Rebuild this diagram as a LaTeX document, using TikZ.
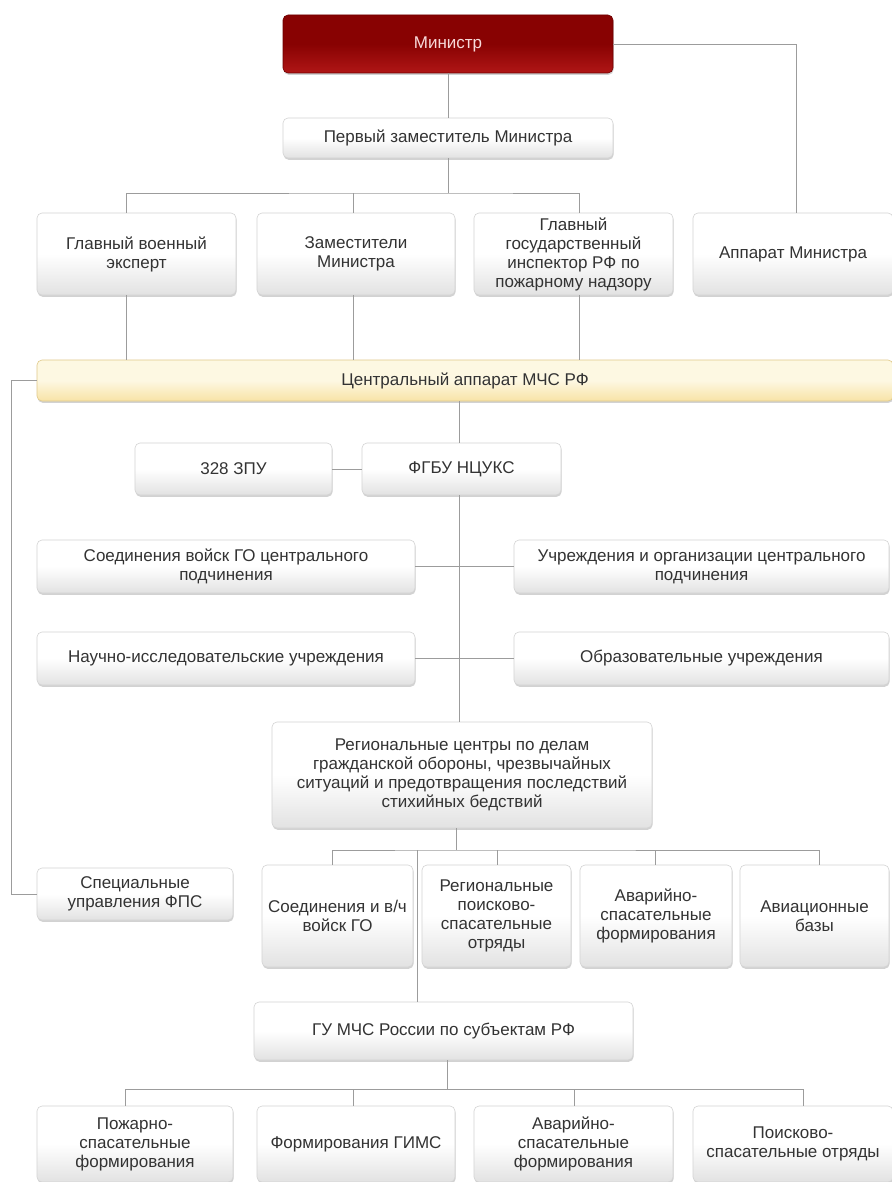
\documentclass[tikz,border=0pt]{standalone}
\usepackage{fontspec}
\setmainfont{Liberation Sans}
\usetikzlibrary{shadows}
\definecolor{txt}{HTML}{333333}
\definecolor{redtop}{HTML}{880202}
\definecolor{redbot}{HTML}{B01616}
\definecolor{redline}{HTML}{6E0000}
\definecolor{mintxt}{HTML}{F8DADA}
\definecolor{yeltop}{HTML}{FDF8E2}
\definecolor{yelbot}{HTML}{F8E3A6}
\definecolor{yelline}{HTML}{E0C98A}
\definecolor{boxline}{HTML}{D4D4D4}
\definecolor{boxbot}{HTML}{E2E2E2}
\definecolor{conncol}{HTML}{9C9C9C}
\tikzset{
  box/.style={rectangle, rounded corners=5pt, draw=boxline, line width=0.6pt,
    top color=white, bottom color=boxbot, middle color=white,
    drop shadow={shadow xshift=0.6pt, shadow yshift=-1.8pt, opacity=0.25, fill=black!70},
    font=\fontsize{17}{19}\selectfont, text=txt, align=center, inner sep=1pt},
  minbox/.style={draw=redline, top color=redtop, bottom color=redbot, middle color=redtop, text=mintxt},
  centbox/.style={draw=yelline, top color=yeltop, bottom color=yelbot, middle color=yeltop},
  conn/.style={draw=conncol, line width=0.8pt},
}
\newcommand{\mybox}[7][]{%
  \pgfmathsetmacro\mbcx{(#3+#5)/2}\pgfmathsetmacro\mbcy{(#4+#6)/2}%
  \pgfmathsetmacro\mbw{#5-#3}\pgfmathsetmacro\mbh{#6-#4}%
  \node[box,#1,minimum width=\mbw pt,minimum height=\mbh pt] (#2) at (\mbcx,\mbcy) {#7};}
\begin{document}
\begin{tikzpicture}[x=1pt,y=-1pt]
\fill[white] (0,0) rectangle (891,1182);
\useasboundingbox (0,0) rectangle (891,1182);
% nodes
\mybox[minbox]{min}{283}{15}{613}{73}{Министр}
\mybox{perv}{283}{118}{613}{158}{Первый заместитель Министра}
\mybox{gve}{37}{213}{236}{295}{Главный военный\\эксперт}
\mybox{zam}{257}{213}{455}{295}{Заместители\\Министра}
\mybox{ggi}{474}{213}{673}{295}{Главный\\государственный\\инспектор РФ по\\пожарному надзору}
\mybox{app}{693}{213}{893}{295}{Аппарат Министра}
\mybox[centbox]{central}{37}{360}{893}{401}{Центральный аппарат МЧС РФ}
\mybox{zpu}{135}{443}{332}{495}{328 ЗПУ}
\mybox{fgbu}{362}{443}{561}{495}{ФГБУ НЦУКС}
\mybox{soed}{37}{540}{415}{593}{Соединения войск ГО центрального\\подчинения}
\mybox{uchr}{514}{540}{889}{593}{Учреждения и организации центрального\\подчинения}
\mybox{nii}{37}{632}{415}{685}{Научно-исследовательские учреждения}
\mybox{obr}{514}{632}{889}{685}{Образовательные учреждения}
\mybox{reg}{272}{722}{652}{828}{Региональные центры по делам\\гражданской обороны, чрезвычайных\\ситуаций и предотвращения последствий\\стихийных бедствий}
\mybox{spec}{37}{868}{233}{920}{Специальные\\управления ФПС}
\mybox{svch}{262}{865}{413}{967}{Соединения и в/ч\\войск ГО}
\mybox{rpso}{422}{865}{571}{967}{Региональные\\поисково-\\спасательные\\отряды}
\mybox{asfa}{580}{865}{732}{967}{Аварийно-\\спасательные\\формирования}
\mybox{avb}{740}{865}{889}{967}{Авиационные\\базы}
\mybox{gu}{254}{1002}{633}{1060}{ГУ МЧС России по субъектам РФ}
\mybox{psf}{37}{1106}{233}{1182}{Пожарно-\\спасательные\\формирования}
\mybox{gims}{257}{1106}{455}{1182}{Формирования ГИМС}
\mybox{asfb}{474}{1106}{673}{1182}{Аварийно-\\спасательные\\формирования}
\mybox{pso}{693}{1106}{893}{1182}{Поисково-\\спасательные отряды}
% connector x positions
\coordinate (xg) at (126,0);
\coordinate (xz) at (353,0);
\coordinate (xi) at (579,0);
\coordinate (xa) at (796,0);
\coordinate (xc) at (459,0);
\coordinate (xs1) at (332,0);
\coordinate (xs2) at (497,0);
\coordinate (xs3) at (655,0);
\coordinate (xs4) at (819,0);
\coordinate (xgu) at (417,0);
\coordinate (xb1) at (125,0);
\coordinate (xb2) at (353,0);
\coordinate (xb3) at (574,0);
\coordinate (xb4) at (803,0);
\coordinate (b1) at (448,193);
\coordinate (b2) at (456,850);
\coordinate (b3) at (447,1089);
% connectors
\draw[conn] (min.south) -- (perv.north);
\draw[conn] (min.east) -| (app.north -| xa);
\draw[conn] (perv.south) -- (b1);
\draw[conn] (gve.north -| xg) |- (b1) -| (ggi.north -| xi);
\draw[conn] (zam.north -| xz) -- (xz |- b1);
\draw[conn] (gve.south -| xg) -- (central.north -| xg);
\draw[conn] (zam.south -| xz) -- (central.north -| xz);
\draw[conn] (ggi.south -| xi) -- (central.north -| xi);
\draw[conn] (central.west) -- ++(-25,0) |- (spec.west);
\draw[conn] (central.south -| xc) -- (fgbu.north -| xc);
\draw[conn] (fgbu.south -| xc) -- (reg.north -| xc);
\draw[conn] (zpu) -- (fgbu);
\draw[conn] (soed) -- (uchr);
\draw[conn] (nii) -- (obr);
\draw[conn] (reg.south -| b2) -- (b2);
\draw[conn] (svch.north -| xs1) |- (b2) -| (avb.north -| xs4);
\draw[conn] (rpso.north -| xs2) -- (xs2 |- b2);
\draw[conn] (asfa.north -| xs3) -- (xs3 |- b2);
\draw[conn] (xgu |- b2) -- (gu.north -| xgu);
\draw[conn] (gu.south -| b3) -- (b3);
\draw[conn] (psf.north -| xb1) |- (b3) -| (pso.north -| xb4);
\draw[conn] (gims.north -| xb2) -- (xb2 |- b3);
\draw[conn] (asfb.north -| xb3) -- (xb3 |- b3);
\end{tikzpicture}
\end{document}
